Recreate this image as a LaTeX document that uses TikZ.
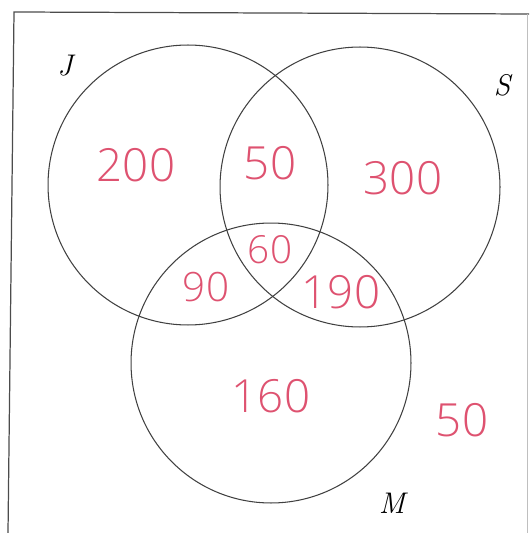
\documentclass[tikz,border=0pt]{standalone}
\usepackage{fontspec}
\newfontfamily\handfont{Open Sans Light}
\usetikzlibrary{positioning}
\definecolor{inkred}{RGB}{222,82,112}

\begin{document}
\begin{tikzpicture}[
        x=0.02cm,
        y=-0.02cm,
        set/.style={circle, draw=black!75, line width=0.6pt, minimum size=5.6cm, inner sep=0pt},
        setname/.style={font=\fontsize{17}{17}\selectfont\itshape},
        count/.style={text=inkred, font=\handfont\fontsize{26}{26}\selectfont, inner sep=0pt}
    ]
        \useasboundingbox (0,0) rectangle (529,533);
        % frame of the scan
        \draw[black!70, line width=0.7pt] (8,533) -- (14,12) -- (529,14);
        \draw[black!25, line width=0.5pt] (527,14) -- (527,533);

        % the three sets
        \node[set] (J) at (188,185) {};
        \node[set] (S) at (360,187) {};
        \node[set] (M) at (271,363) {};

        \node[setname] (Jname) at (65,66) {J};
        \node[setname] (Sname) at (502,85) {S};
        \node[setname] (Mname) at (392,503) {M};

        % counts
        \node[count] (onlyJ) at (136,165) {200};
        \node[count] (JS) at (270,163) {50};
        \node[count] (onlyS) at (403,178) {300};
        \node[count, font=\handfont\fontsize{22}{22}\selectfont] (JSM) at (270,250) {60};
        \node[count, font=\handfont\fontsize{23}{23}\selectfont] (JM) at (206,287) {90};
        \node[count] (SM) at (341,292) {190};
        \node[count] (onlyM) at (271,396) {160};
        \node[count] (none) at (462,420) {50};
    \end{tikzpicture}
\end{document}
